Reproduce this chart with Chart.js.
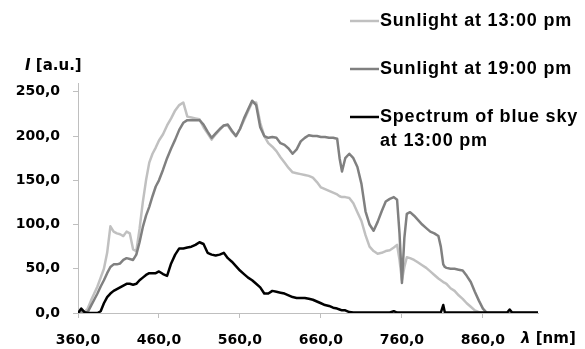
<!DOCTYPE html>
<html>
<head>
<meta charset="utf-8">
<script src="https://cdn.jsdelivr.net/npm/chart.js@4.4.1/dist/chart.umd.min.js"></script>
<style>
    html, body { margin: 0; padding: 0; background: #ffffff; }
    #spectrumChart { display: block; }
</style>
</head>
<body>
<canvas id="spectrumChart" width="585" height="349"></canvas>
<script>
// Comprimentos de onda (nm)
const wavelengths = [
    360, 364, 368, 372, 376, 380, 384, 388, 392, 396,
    400, 404, 408, 412, 416, 420, 424, 428, 432, 436,
    440, 444, 448, 452, 456, 460, 465, 470, 475, 480,
    485, 490, 495, 500, 505, 510, 515, 520, 525, 530,
    535, 540, 545, 550, 555, 560, 565, 570, 575, 580,
    585, 590, 595, 600, 605, 610, 615, 620, 625, 630,
    635, 640, 645, 650, 655, 660, 665, 670, 675, 680,
    683, 686, 690, 695, 700, 705, 710, 715, 720, 725,
    730, 735, 740, 745, 750, 754, 757, 760, 763, 766,
    770, 775, 780, 785, 790, 795, 800, 805, 808, 811,
    813, 815, 820, 825, 830, 835, 840, 845, 850, 855,
    860, 865, 870, 880, 890, 893, 896, 910, 928
];

const sunlight13 = [
    0, 3, 1, 5, 14, 22, 30, 40, 50, 68,
    98, 92, 90, 89, 87, 92, 90, 72, 70, 95,
    125, 150, 170, 180, 187, 195, 202, 212, 220, 229,
    235, 238, 222, 221, 220, 219, 210, 203, 196, 202,
    207, 212, 212, 205, 200, 208, 218, 228, 238, 238,
    215, 200, 192, 188, 183, 176, 170, 164, 159, 158,
    157, 156, 155, 153, 148, 142, 140, 138, 136, 134,
    132, 131, 131, 130, 124, 114, 104, 88, 75, 70,
    67, 68, 70, 71, 74, 77, 60, 37, 52, 63,
    62, 60, 57, 54, 51, 47, 43, 39, 37, 35,
    34, 33, 28, 25, 20, 16, 11, 7, 3, 1,
    0, 0, 0, 0, 0, 0, 0, 0, 0
];

const sunlight19 = [
    0, 2, 0, 1, 8, 15, 22, 30, 37, 45,
    52, 55, 55, 56, 60, 62, 61, 60, 66, 80,
    97, 110, 120, 132, 143, 150, 162, 175, 186, 196,
    207, 215, 218, 218, 218, 218, 213, 205, 198, 203,
    208, 212, 213, 206, 200, 208, 220, 230, 240, 235,
    210, 200, 198, 199, 198, 192, 190, 186, 180, 185,
    194, 198, 201, 200, 200, 199, 199, 198, 198, 197,
    175, 160, 175, 180, 175, 165, 146, 115, 100, 93,
    103, 115, 126, 129, 131, 128, 90, 34, 85, 112,
    114, 110, 105, 100, 96, 92, 90, 87, 75, 55,
    52, 51, 50, 50, 49, 48, 42, 35, 24, 14,
    5, 0, 0, 0, 0, 0, 0, 0, 0
];

const blueSky13 = [
    0, 5, 1, 0, 0, 0, 0, 2, 11, 18,
    22, 25, 27, 29, 31, 33, 33, 32, 33, 37,
    40, 43, 45, 45, 45, 47, 44, 42, 56, 66,
    73, 73, 74, 75, 77, 80, 78, 68, 66, 65,
    66, 68, 62, 58, 53, 48, 44, 40, 37, 33,
    29, 22, 22, 25, 24, 23, 22, 20, 18, 17,
    17, 17, 16, 15, 13, 11, 9, 8, 6, 5,
    4, 3, 3, 1, 0.5, 0.5, 0.5, 0.5, 0.5, 0.5,
    0.5, 0.5, 0.5, 0.5, 2, 0.5, 0.5, 0.5, 0.5, 0.5,
    0.5, 0.5, 0.5, 0.5, 0.5, 0.5, 0.5, 0.5, 0.5, 9,
    0.5, 0.5, 0.5, 0.5, 0.5, 0.5, 0.5, 0.5, 0.5, 0.5,
    0.5, 0.5, 0.5, 0.5, 0.5, 4, 0.5, 0.5, 0.5
];

// Rótulos da legenda (a última tem duas linhas)
const seriesLabels = [
    ['Sunlight at 13:00 pm'],
    ['Sunlight at 19:00 pm'],
    ['Spectrum of blue sky', 'at 13:00 pm']
];
const seriesColors = ['#c0c0c0', '#808080', '#000000'];

const xTicks = [360, 460, 560, 660, 760, 860];
const yTicks = [0, 50, 100, 150, 200, 250];

function toPoints(values) {
    return values.map(function(v, i) {
        return { x: wavelengths[i], y: v };
    });
}

function commaLabel(value) {
    return Number(value).toFixed(1).replace('.', ',');
}

// Legenda e títulos dos eixos desenhados à mão
const annotationsPlugin = {
    id: 'annotations',
    afterDraw: function(chart) {
        const ctx = chart.ctx;
        ctx.save();

        // legenda
        const legendY = [21, 69, 117];
        ctx.font = 'bold 18px "Liberation Sans", Arial, sans-serif';
        ctx.letterSpacing = '0.8px';
        ctx.textBaseline = 'middle';
        ctx.textAlign = 'left';
        ctx.fillStyle = '#000000';
        seriesLabels.forEach(function(lines, i) {
            ctx.strokeStyle = seriesColors[i];
            ctx.lineWidth = 2.5;
            ctx.beginPath();
            ctx.moveTo(350, legendY[i]);
            ctx.lineTo(379, legendY[i]);
            ctx.stroke();
            lines.forEach(function(line, j) {
                ctx.fillText(line, 380, legendY[i] + j * 24);
            });
        });
        ctx.letterSpacing = '0px';

        // título do eixo y
        ctx.font = 'italic bold 15px "DejaVu Sans", sans-serif';
        ctx.fillText('I', 25, 66);
        const iWidth = ctx.measureText('I').width;
        ctx.font = 'bold 15px "DejaVu Sans", sans-serif';
        ctx.fillText(' [a.u.]', 25 + iWidth, 66);

        // título do eixo x
        ctx.font = 'italic bold 15px "DejaVu Sans", sans-serif';
        ctx.fillText('\u03bb', 521, 339);
        const lWidth = ctx.measureText('\u03bb').width;
        ctx.font = 'bold 15px "DejaVu Sans", sans-serif';
        ctx.fillText(' [nm]', 521 + lWidth, 339);

        ctx.restore();
    }
};

const ctx = document.getElementById('spectrumChart').getContext('2d');
new Chart(ctx, {
    type: 'line',
    data: {
        datasets: [
            {
                label: seriesLabels[2].join(' '),
                data: toPoints(blueSky13),
                borderColor: seriesColors[2],
                borderWidth: 2.5,
                order: 0
            },
            {
                label: seriesLabels[1].join(' '),
                data: toPoints(sunlight19),
                borderColor: seriesColors[1],
                borderWidth: 2.5,
                order: 1
            },
            {
                label: seriesLabels[0].join(' '),
                data: toPoints(sunlight13),
                borderColor: seriesColors[0],
                borderWidth: 2.5,
                order: 2
            }
        ]
    },
    options: {
        responsive: false,
        animation: false,
        devicePixelRatio: 1,
        elements: {
            point: { radius: 0 },
            line: { tension: 0, borderJoinStyle: 'round' }
        },
        layout: {
            padding: { top: 83, right: 47, left: 0, bottom: 0 }
        },
        plugins: {
            legend: { display: false },
            tooltip: { enabled: false }
        },
        scales: {
            x: {
                type: 'linear',
                min: 360,
                max: 928,
                afterBuildTicks: function(scale) {
                    scale.ticks = xTicks.map(function(v) { return { value: v }; });
                },
                afterFit: function(scale) {
                    scale.height = 36;
                },
                ticks: {
                    autoSkip: false,
                    maxRotation: 0,
                    padding: 14,
                    color: '#000000',
                    font: { family: '"DejaVu Sans", sans-serif', size: 14, weight: 'bold' },
                    callback: commaLabel
                },
                grid: {
                    drawOnChartArea: false,
                    drawTicks: true,
                    tickLength: 5,
                    color: '#bfbfbf'
                },
                border: { display: true, color: '#bfbfbf', width: 1 }
            },
            y: {
                min: 0,
                max: 260,
                afterBuildTicks: function(scale) {
                    scale.ticks = yTicks.map(function(v) { return { value: v }; });
                },
                afterFit: function(scale) {
                    scale.width = 78;
                },
                ticks: {
                    padding: 13,
                    color: '#000000',
                    font: { family: '"DejaVu Sans", sans-serif', size: 14, weight: 'bold' },
                    callback: commaLabel
                },
                grid: {
                    drawOnChartArea: false,
                    drawTicks: true,
                    tickLength: 5,
                    color: '#bfbfbf'
                },
                border: { display: true, color: '#bfbfbf', width: 1 }
            }
        }
    },
    plugins: [annotationsPlugin]
});
</script>
</body>
</html>
